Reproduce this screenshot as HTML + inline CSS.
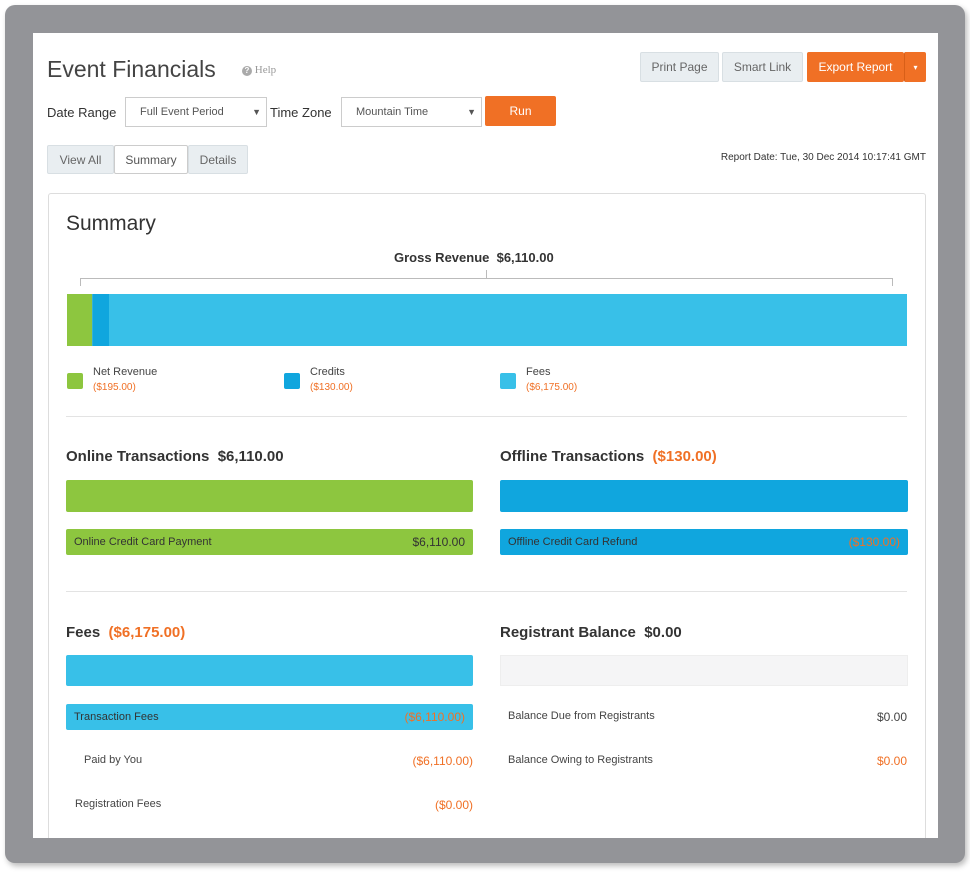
<!DOCTYPE html>
<html><head><meta charset="utf-8"><style>
*{margin:0;padding:0;box-sizing:border-box}
body{width:970px;height:872px;background:#fff;font-family:"Liberation Sans",sans-serif;position:relative;overflow:hidden;color:#333}
.a{position:absolute}
.frame{left:5px;top:5px;width:960px;height:858px;background:#939498;border-radius:10px;box-shadow:2px 3px 6px #bbb}
.inner{left:33px;top:33px;width:905px;height:805px;background:#fff}
.btn{border-radius:2px;font-size:12px;display:flex;align-items:center;justify-content:center}
.gray{background:#e9eef1;border:1px solid #d8dfe3;color:#666}
.org{background:#f07025;color:#fff}
.sel{background:#fff;border:1px solid #ccc;font-size:11px;color:#555;padding-left:14px;display:flex;align-items:center}
.h{font-size:15px;font-weight:bold;color:#333}
.o{color:#f07025}
.sm{font-size:11px;color:#444}
</style></head><body>
<div class="a frame"></div>
<div class="a inner"></div>
<div class="a" style="left:47px;top:56px;font-size:23px;color:#444">Event Financials</div>
<div class="a" style="left:242px;top:64px;font-size:11px;color:#999;font-family:'Liberation Serif',serif"><span style="display:inline-block;width:10px;height:10px;border-radius:50%;background:#aaa;color:#fff;font-size:8px;text-align:center;line-height:10px;font-family:'Liberation Sans',sans-serif;font-weight:bold">?</span> Help</div>
<div class="a btn gray" style="left:640px;top:52px;width:79px;height:30px">Print Page</div>
<div class="a btn gray" style="left:722px;top:52px;width:81px;height:30px">Smart Link</div>
<div class="a btn org" style="left:807px;top:52px;width:97px;height:30px">Export Report</div>
<div class="a btn org" style="left:904px;top:52px;width:22px;height:30px;border-left:1px solid #d85f18;font-size:8px">▾</div>
<div class="a" style="left:47px;top:105px;font-size:13px;color:#333">Date Range</div>
<div class="a sel" style="left:125px;top:97px;width:142px;height:30px">Full Event Period<span style="position:absolute;right:5px;font-size:9px">▼</span></div>
<div class="a" style="left:270px;top:105px;font-size:13px;color:#333">Time Zone</div>
<div class="a sel" style="left:341px;top:97px;width:141px;height:30px">Mountain Time<span style="position:absolute;right:5px;font-size:9px">▼</span></div>
<div class="a btn org" style="left:485px;top:96px;width:71px;height:30px">Run</div>
<div class="a btn gray" style="left:47px;top:145px;width:67px;height:29px">View All</div>
<div class="a btn" style="left:114px;top:145px;width:74px;height:29px;border:1px solid #ccc;color:#555;background:#fff">Summary</div>
<div class="a btn gray" style="left:188px;top:145px;width:60px;height:29px">Details</div>
<div class="a" style="left:700px;top:152px;font-size:10px;color:#333;width:226px;text-align:right">Report Date: Tue, 30 Dec 2014 10:17:41 GMT</div>
<div class="a" style="left:48px;top:193px;width:878px;height:660px;border:1px solid #ddd;border-radius:3px"></div>
<div class="a" style="left:66px;top:212px;font-size:21px;color:#333">Summary</div>
<div class="a h" style="left:394px;top:250px;font-size:13px">Gross Revenue &nbsp;$6,110.00</div>
<div class="a" style="left:80px;top:278px;width:813px;height:8px;border:1px solid #bbb;border-bottom:none"></div>
<div class="a" style="left:486px;top:270px;width:1px;height:8px;background:#bbb"></div>
<svg class="a" id="gross" style="left:67px;top:294px" width="840" height="52"></svg>
<div class="a" style="left:67px;top:373px;width:16px;height:16px;background:#8dc63f;border-radius:2px"></div>
<div class="a sm" style="left:93px;top:366px">Net Revenue<br><span class="o" style="font-size:10px;line-height:20px">($195.00)</span></div>
<div class="a" style="left:284px;top:373px;width:16px;height:16px;background:#10a6de;border-radius:2px"></div>
<div class="a sm" style="left:310px;top:366px">Credits<br><span class="o" style="font-size:10px;line-height:20px">($130.00)</span></div>
<div class="a" style="left:500px;top:373px;width:16px;height:16px;background:#38c0e8;border-radius:2px"></div>
<div class="a sm" style="left:526px;top:366px">Fees<br><span class="o" style="font-size:10px;line-height:20px">($6,175.00)</span></div>
<div class="a" style="left:66px;top:416px;width:841px;height:1px;background:#e3e3e3"></div>
<div class="a h" style="left:66px;top:448px">Online Transactions &nbsp;$6,110.00</div>
<div class="a" style="left:66px;top:480px;width:407px;height:32px;background:#8dc63f;border-radius:2px"></div>
<div class="a sm" style="left:66px;top:529px;width:407px;height:26px;background:#8dc63f;border-radius:2px;padding:0 8px;display:flex;align-items:center;justify-content:space-between;color:#333"><span>Online Credit Card Payment</span><span style="font-size:12px">$6,110.00</span></div>
<div class="a h" style="left:500px;top:448px">Offline Transactions &nbsp;<span class="o">($130.00)</span></div>
<div class="a" style="left:500px;top:480px;width:408px;height:32px;background:#10a6de;border-radius:2px"></div>
<div class="a sm" style="left:500px;top:529px;width:408px;height:26px;background:#10a6de;border-radius:2px;padding:0 8px;display:flex;align-items:center;justify-content:space-between;color:#333"><span>Offline Credit Card Refund</span><span class="o" style="font-size:12px">($130.00)</span></div>
<div class="a" style="left:66px;top:591px;width:841px;height:1px;background:#e3e3e3"></div>
<div class="a h" style="left:66px;top:624px">Fees &nbsp;<span class="o">($6,175.00)</span></div>
<div class="a" style="left:66px;top:655px;width:407px;height:31px;background:#38c0e8;border-radius:2px"></div>
<div class="a sm" style="left:66px;top:704px;width:407px;height:26px;background:#38c0e8;border-radius:2px;padding:0 8px;display:flex;align-items:center;justify-content:space-between;color:#333"><span>Transaction Fees</span><span class="o" style="font-size:12px">($6,110.00)</span></div>
<div class="a sm" style="left:84px;top:754px;width:389px;display:flex;justify-content:space-between"><span>Paid by You</span><span class="o" style="font-size:12px">($6,110.00)</span></div>
<div class="a sm" style="left:75px;top:798px;width:398px;display:flex;justify-content:space-between"><span>Registration Fees</span><span class="o" style="font-size:12px">($0.00)</span></div>
<div class="a h" style="left:500px;top:624px">Registrant Balance &nbsp;$0.00</div>
<div class="a" style="left:500px;top:655px;width:408px;height:31px;background:#f5f5f6;border:1px solid #eee"></div>
<div class="a sm" style="left:508px;top:710px;width:399px;display:flex;justify-content:space-between"><span>Balance Due from Registrants</span><span style="font-size:12px">$0.00</span></div>
<div class="a sm" style="left:508px;top:754px;width:399px;display:flex;justify-content:space-between"><span>Balance Owing to Registrants</span><span class="o" style="font-size:12px">$0.00</span></div>
<div class="a" style="left:33px;top:838px;width:905px;height:25px;background:#939498"></div>
<script>
const categories=["Net Revenue","Credits","Fees"];
const values=[195,130,6175];
const colors=["#8dc63f","#10a6de","#38c0e8"];
const svg=document.getElementById('gross');
const W=840,total=values.reduce((a,b)=>a+b,0);
const xs=v=>v/total*W;
let acc=0;
values.forEach((v,i)=>{
  const r=document.createElementNS('http://www.w3.org/2000/svg','rect');
  r.setAttribute('x',xs(acc));r.setAttribute('y',0);
  r.setAttribute('width',xs(v));r.setAttribute('height',52);
  r.setAttribute('fill',colors[i]);
  
  
  svg.appendChild(r);acc+=v;
});
</script>
</body></html>
